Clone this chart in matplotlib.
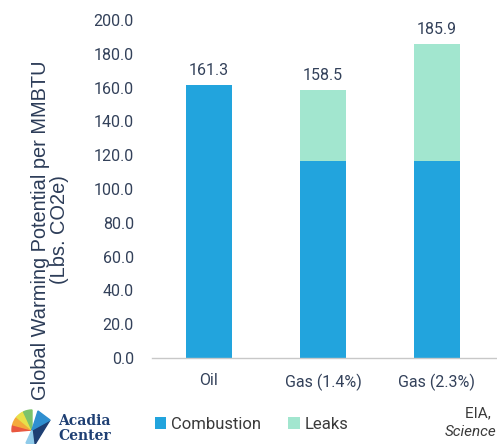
import numpy as np
import matplotlib.pyplot as plt
from matplotlib.patches import Wedge, Polygon

# data
categories = ['Oil', 'Gas (1.4%)', 'Gas (2.3%)']
combustion = [161.3, 116.6, 116.6]
leaks = [0.0, 41.9, 69.3]
totals = [161.3, 158.5, 185.9]
yticks = np.arange(0, 201, 20)

c_comb = '#22A4DD'
c_leak = '#A2E6CF'
c_text = '#33415A'

plt.rcParams['font.family'] = ['Roboto', 'DejaVu Sans']

fig = plt.figure(figsize=(4.97, 4.44), dpi=100)
ax = fig.add_axes([152 / 497, 86 / 444, 342 / 497, 338 / 444])

x = np.arange(len(categories))
ax.bar(x, combustion, width=0.4, color=c_comb, label='Combustion')
ax.bar(x, leaks, width=0.4, bottom=combustion, color=c_leak, label='Leaks')

for xi, t in zip(x, totals):
    ax.annotate(f'{t:.1f}', (xi, t), xytext=(0, 5), textcoords='offset points',
                ha='center', va='bottom', fontsize=11.5, color=c_text)

ax.set_xlim(-0.5, 2.5)
ax.set_ylim(0, 200)
ax.set_yticks(yticks)
ax.set_yticklabels([f'{v:.1f}' for v in yticks])
ax.set_xticks(x)
ax.set_xticklabels(categories)
ax.tick_params(axis='y', length=0, pad=13, labelsize=11.5, labelcolor=c_text)
ax.tick_params(axis='x', length=0, pad=11, labelsize=11.5, labelcolor=c_text)
for s in ['top', 'right', 'left']:
    ax.spines[s].set_visible(False)
ax.spines['bottom'].set_color('#C8C8C8')
ax.spines['bottom'].set_linewidth(1.0)
ax.spines['bottom'].set_bounds(-0.5, 2.6)

fig.text(50 / 497, 1 - 230 / 444, 'Global Warming Potential per MMBTU\n(Lbs. CO2e)',
         rotation=90, ha='center', va='center', multialignment='center',
         fontsize=14.4, color='#2C3C58', family=['Liberation Sans', 'DejaVu Sans'],
         linespacing=1.0)

# legend
leg = fig.legend(loc='center left', bbox_to_anchor=(148 / 497, 1 - 424 / 444), ncol=2,
                 frameon=False, fontsize=12, handlelength=0.7, handleheight=0.7,
                 handletextpad=0.3, columnspacing=1.6, borderaxespad=0)
for t in leg.get_texts():
    t.set_color('#3A3A3A')

# logo
lx, ly = 32, 444 - 430
cols = ['#E9573F', '#F4A93B', '#E8E04A', '#7CC36B']
angs = [(165, 185), (140, 165), (115, 140), (90, 115)]
for (a1, a2), c in zip(angs, cols):
    fig.patches.append(Wedge((lx, ly), 20, a1, a2, color=c,
                             transform=None, figure=fig))
fig.patches.append(Polygon([[lx, ly], [lx + 18, ly + 10], [lx + 2, ly - 16]],
                           closed=True, color='#1E3F73', transform=None, figure=fig))
fig.patches.append(Polygon([[lx, ly], [lx + 2, ly - 16], [lx - 6, ly - 13]],
                           closed=True, color='#8FCBEA', transform=None, figure=fig))
fig.patches.append(Polygon([[lx, ly], [lx + 18, ly + 10], [lx + 6, ly + 19]],
                           closed=True, color='#2F8FD0', transform=None, figure=fig))
fig.text(58 / 497, 1 - 421 / 444, 'Acadia', fontsize=10, fontweight='bold',
         family=['DejaVu Serif'], color='#1E3F73', ha='left', va='center')
fig.text(58 / 497, 1 - 436 / 444, 'Center', fontsize=10, fontweight='bold',
         family=['DejaVu Serif'], color='#1E3F73', ha='left', va='center')

# source (cut off on the right)
fig.text(465 / 497, 1 - 413 / 444, 'EIA, ', fontsize=11, color='#3A3A3A',
         ha='left', va='center')
fig.text(445 / 497, 1 - 432 / 444, 'Science', fontsize=11, style='italic',
         color='#3A3A3A', ha='left', va='center')

fig.savefig('out.png', dpi=100)
